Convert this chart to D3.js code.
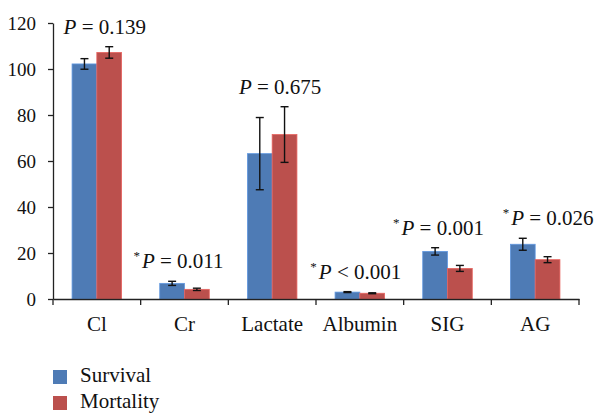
<!DOCTYPE html>
<html><head><meta charset="utf-8">
<script src="https://cdn.jsdelivr.net/npm/d3@7"></script>
<style>body{margin:0;background:#fff}svg{display:block}svg text{font-family:"Liberation Serif",serif}</style>
</head><body><svg id="c" width="598" height="413" font-family="Liberation Serif"></svg>
<script>
const categories = ["Cl","Cr","Lactate","Albumin","SIG","AG"];
const seriesNames = ["Survival","Mortality"];
const survival = [102.2, 6.8, 63.2, 3.0, 20.7, 23.8];
const survivalErr = [2.3, 0.9, 15.7, 0.2, 1.6, 2.6];
const mortality = [107.2, 4.2, 71.5, 2.5, 13.3, 17.1];
const mortalityErr = [2.5, 0.5, 12.1, 0.2, 1.3, 1.3];
const pText = ["= 0.139","= 0.011","= 0.675","< 0.001","= 0.001","= 0.026"];
const pSig = [false, true, false, true, true, true];
const yTicks = [0,20,40,60,80,100,120];
const colors = ["#4e7bb5","#bb504d"];
const FONT = "Liberation Serif";

const svg = d3.select("#c");
const L=53, R=579, T=23, B=299;
const y = d3.scaleLinear().domain([0,120]).range([B,T]);
const x = d3.scaleBand().domain(categories).range([L,R]).padding(0);
const groupW = x.bandwidth()*0.565;
const xs = d3.scaleBand().domain(seriesNames).range([0,groupW]).padding(0);
const vals = [survival, mortality], errs = [survivalErr, mortalityErr];

// y axis
const ya = svg.append("g").attr("transform",`translate(${L},0)`)
  .call(d3.axisLeft(y).tickValues(yTicks).tickSize(5).tickPadding(12).tickSizeOuter(0))
  .attr("font-family",FONT).attr("font-size",19);
ya.select(".domain").attr("stroke","#222").attr("stroke-width",1.3);
ya.selectAll(".tick line").attr("stroke","#222").attr("stroke-width",1.3);
ya.selectAll(".tick text").attr("font-family",FONT).attr("font-size",19).attr("dy","0.33em").attr("fill","#111");

// bars
categories.forEach((c,i)=>{
  const gx = x(c) + (x.bandwidth()-groupW)/2;
  seriesNames.forEach((s,j)=>{
    const v = vals[j][i], e = errs[j][i];
    const bx = gx + xs(s);
    svg.append("rect").attr("x",bx).attr("y",y(v)).attr("width",xs.bandwidth()).attr("height",y(0)-y(v))
      .attr("fill",colors[j]).attr("stroke",d3.color(colors[j]).brighter(0.6)).attr("stroke-width",0.8);
    const cx = bx + xs.bandwidth()/2;
    const g = svg.append("g").attr("stroke","#111").attr("stroke-width",1.4);
    g.append("line").attr("x1",cx).attr("x2",cx).attr("y1",y(v+e)).attr("y2",y(v-e));
    g.append("line").attr("x1",cx-4).attr("x2",cx+4).attr("y1",y(v+e)).attr("y2",y(v+e));
    g.append("line").attr("x1",cx-4).attr("x2",cx+4).attr("y1",y(v-e)).attr("y2",y(v-e));
  });
});

// x axis
const xa = svg.append("g").attr("transform",`translate(0,${B})`)
  .call(d3.axisBottom(x).tickSize(0).tickPadding(0))
  .attr("font-family",FONT).attr("font-size",21);
xa.select(".domain").attr("stroke","#222").attr("stroke-width",1.3);
xa.selectAll(".tick text").attr("font-family",FONT).attr("font-size",21).attr("y",32).attr("dy",0).attr("fill","#111");
const bounds = categories.map(c=>x(c)).concat([R]);
xa.selectAll(".bt").data(bounds).enter().append("line").attr("class","bt")
  .attr("x1",d=>d).attr("x2",d=>d).attr("y1",0).attr("y2",6).attr("stroke","#222").attr("stroke-width",1.3);

// P labels (layout nudges relative to the category centre)
const nudge = [8, -6, 8, -4, -9, 13];
categories.forEach((c,i)=>{
  const top = Math.max(survival[i]+survivalErr[i], mortality[i]+mortalityErr[i]);
  const t = svg.append("text").attr("x", x(c)+x.bandwidth()/2 + nudge[i]).attr("y", y(top)-13)
    .attr("text-anchor","middle").attr("font-family",FONT).attr("font-size",21).attr("fill","#111");
  if (pSig[i]) t.append("tspan").attr("font-size",13).attr("dy",-8).text("*");
  t.append("tspan").attr("font-style","italic").attr("dx", pSig[i]?2:0).attr("dy", pSig[i]?8:0).text("P");
  t.append("tspan").text(" " + pText[i]);
});

// legend
seriesNames.forEach((s,j)=>{
  const ly = 370 + j*26;
  svg.append("rect").attr("x",53).attr("y",ly).attr("width",14).attr("height",14).attr("fill",colors[j]);
  svg.append("text").attr("x",80).attr("y",ly+12).attr("font-family",FONT).attr("font-size",21).attr("fill","#111").text(s);
});
</script></body></html>
